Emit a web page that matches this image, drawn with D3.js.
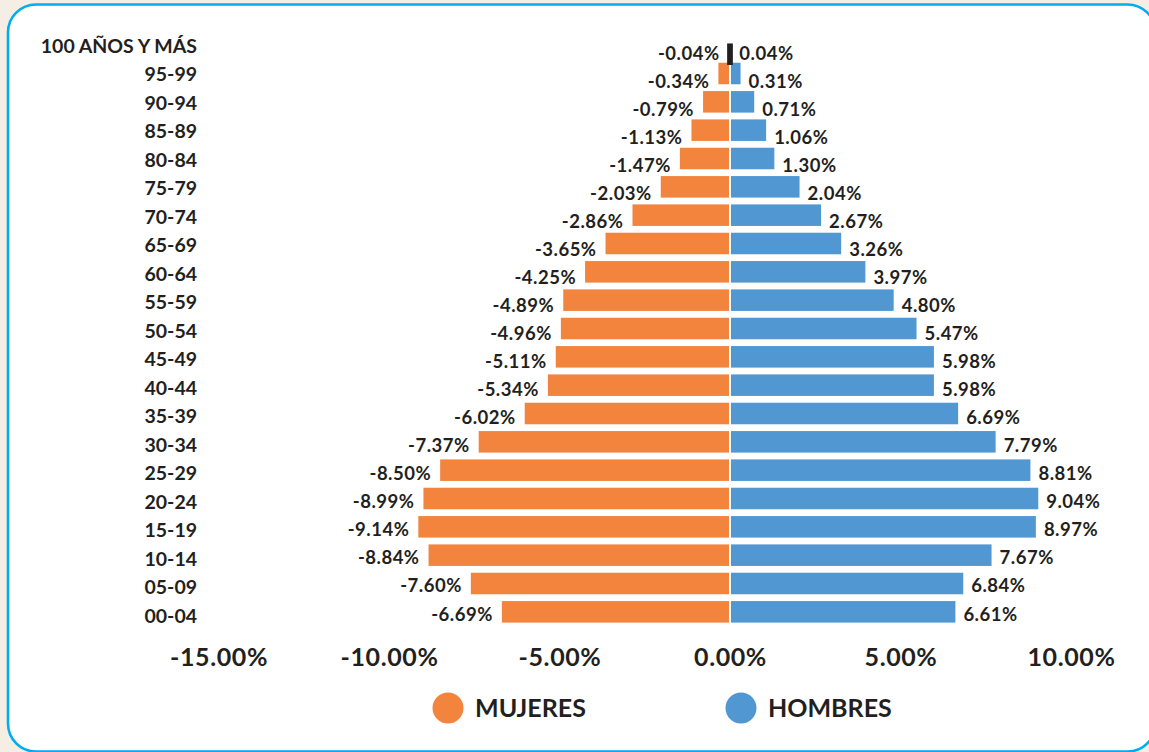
<html>
<head>
<meta charset="utf-8">
</head>
<body style="margin: 0 0 0 0; background: #f5eee5;">
<svg id="world"></svg>
<script src="https://cdnjs.cloudflare.com/ajax/libs/d3/7.8.5/d3.min.js"></script>
<script type="text/javascript">

var ages = ["100 AÑOS Y MÁS", "95-99", "90-94", "85-89", "80-84", "75-79", "70-74",
  "65-69", "60-64", "55-59", "50-54", "45-49", "40-44", "35-39", "30-34",
  "25-29", "20-24", "15-19", "10-14", "05-09", "00-04"]

var mujeres = [-0.04, -0.34, -0.79, -1.13, -1.47, -2.03, -2.86, -3.65, -4.25, -4.89,
  -4.96, -5.11, -5.34, -6.02, -7.37, -8.50, -8.99, -9.14, -8.84, -7.60, -6.69]

var hombres = [0.04, 0.31, 0.71, 1.06, 1.30, 2.04, 2.67, 3.26, 3.97, 4.80,
  5.47, 5.98, 5.98, 6.69, 7.79, 8.81, 9.04, 8.97, 7.67, 6.84, 6.61]

var ticks = [-15, -10, -5, 0, 5, 10]

var series = ["MUJERES", "HOMBRES"]

var orange = "#f3843e",
    blue = "#5198d3",
    ink = "#231f20",
    font = "Lato, 'Open Sans', sans-serif"

var W = 1149, H = 752

var world = d3.select(document.getElementById("world"))
  .attr("width", W)
  .attr("height", H)
  .style("display", "block")

// frame
world.append("rect")
  .attr("x", 8)
  .attr("y", 4.5)
  .attr("width", 1147.5)
  .attr("height", 747)
  .attr("rx", 28)
  .attr("fill", "white")
  .attr("stroke", "#00aeef")
  .attr("stroke-width", 2.6)

var x = d3.scaleLinear().domain([-15, 10]).range([218.5, 1071])

var y = d3.scaleBand().domain(ages).range([31, 626]).paddingInner(0.24).paddingOuter(0.12)

// labels drift a little relative to bars in the original
var yCat = d3.scalePoint().domain(ages).range([53, 622.5])
var yVal = d3.scalePoint().domain(ages).range([60, 620.5])

var rows = ages.map(function(a, i) { return { age: a, m: mujeres[i], h: hombres[i], i: i }; })

var g = world.append("g")

// mujeres (left)
g.selectAll("rect.m")
  .data(rows.slice(1))
  .enter().append("rect")
  .attr("class", "m")
  .attr("x", function(d) { return x(d.m); })
  .attr("y", function(d) { return y(d.age); })
  .attr("width", function(d) { return x(0) - 1 - x(d.m); })
  .attr("height", y.bandwidth())
  .attr("fill", orange)

// hombres (right)
g.selectAll("rect.h")
  .data(rows.slice(1))
  .enter().append("rect")
  .attr("class", "h")
  .attr("x", x(0) + 1)
  .attr("y", function(d) { return y(d.age); })
  .attr("width", function(d) { return x(d.h) - x(0) - 1; })
  .attr("height", y.bandwidth())
  .attr("fill", blue)

// 100+ row is drawn as a dark sliver in the original
g.selectAll("rect.top")
  .data(rows.slice(0, 1))
  .enter().append("rect")
  .attr("class", "top")
  .attr("x", function(d) { return x(d.m) - 1.5; })
  .attr("y", function(d) { return y(d.age) + y.bandwidth() * 0.42; })
  .attr("width", function(d) { return x(d.h) - x(d.m) + 3; })
  .attr("height", y.bandwidth())
  .attr("fill", ink)

// value labels
g.selectAll("text.vm")
  .data(rows)
  .enter().append("text")
  .attr("class", "vm")
  .attr("x", function(d) { return x(d.m) - 9; })
  .attr("y", function(d) { return yVal(d.age); })
  .attr("text-anchor", "end")
  .style("font-family", font)
  .style("font-weight", 700)
  .style("font-size", "18.5px")
  .style("letter-spacing", "0.5px")
  .attr("fill", ink)
  .text(function(d) { return d.m.toFixed(2) + "%"; })

g.selectAll("text.vh")
  .data(rows)
  .enter().append("text")
  .attr("class", "vh")
  .attr("x", function(d) { return x(d.h) + 8; })
  .attr("y", function(d) { return yVal(d.age); })
  .style("font-family", font)
  .style("font-weight", 700)
  .style("font-size", "18.5px")
  .style("letter-spacing", "0.5px")
  .attr("fill", ink)
  .text(function(d) { return d.h.toFixed(2) + "%"; })

// age labels
g.selectAll("text.cat")
  .data(ages)
  .enter().append("text")
  .attr("class", "cat")
  .attr("x", 197)
  .attr("y", function(d) { return yCat(d); })
  .attr("text-anchor", "end")
  .style("font-family", font)
  .style("font-weight", 700)
  .style("font-size", "19.5px")
  .attr("fill", ink)
  .text(function(d) { return d; })

// x axis, labels only
var axis = world.append("g")
  .attr("transform", "translate(0,645)")
  .call(d3.axisBottom(x).tickValues(ticks).tickSize(0)
    .tickFormat(function(d) { return d.toFixed(2) + "%"; }))

axis.select(".domain").remove()
axis.selectAll("text")
  .attr("dy", 0)
  .attr("y", 21)
  .style("font-family", font)
  .style("font-weight", 700)
  .style("font-size", "25px")
  .style("letter-spacing", "0.6px")
  .attr("fill", ink)

// legend
var legend = world.append("g")
  .selectAll("g")
  .data(series)
  .enter().append("g")
  .attr("transform", function(d, i) { return "translate(" + (448 + i * 293) + ",708)"; })

legend.append("circle")
  .attr("r", 15.5)
  .attr("fill", function(d, i) { return i ? blue : orange; })

legend.append("text")
  .attr("x", 27)
  .attr("y", 9)
  .style("font-family", font)
  .style("font-weight", 700)
  .style("font-size", "25px")
  .attr("fill", ink)
  .text(function(d) { return d; })

</script>
</body>
</html>
